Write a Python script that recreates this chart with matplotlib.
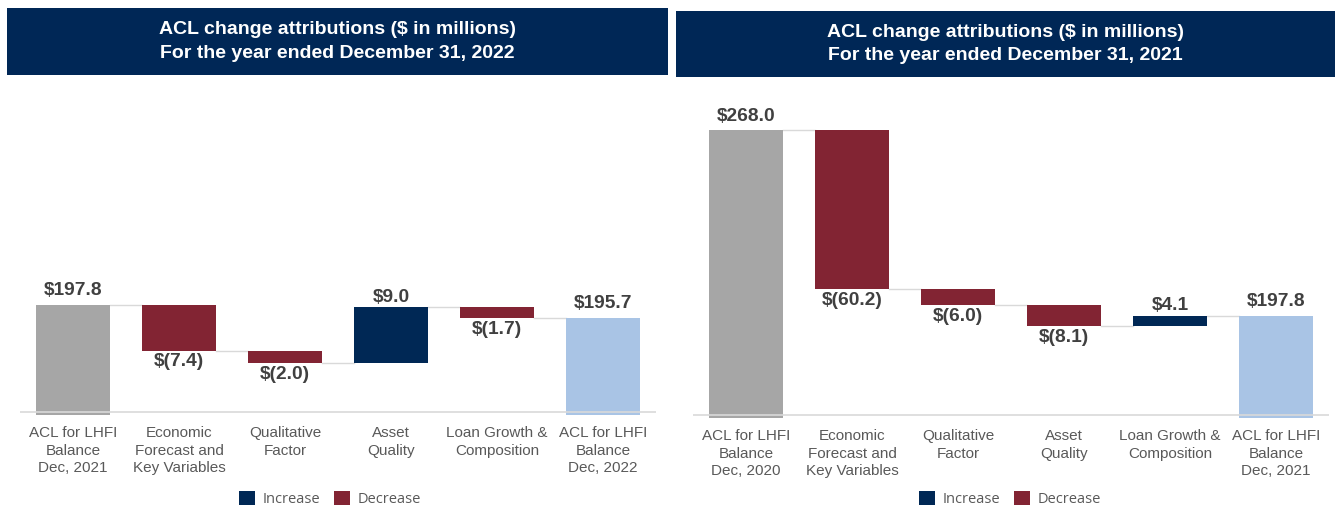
import matplotlib
matplotlib.use("Agg")
import matplotlib.pyplot as plt
from matplotlib.patches import Patch, Rectangle

plt.rcParams["font.family"] = ["Liberation Sans", "DejaVu Sans"]

# ── data ────────────────────────────────────────────────────────────────
categories_2022 = ["ACL for LHFI\nBalance\nDec, 2021", "Economic\nForecast and\nKey Variables",
                   "Qualitative\nFactor", "Asset\nQuality", "Loan Growth &\nComposition",
                   "ACL for LHFI\nBalance\nDec, 2022"]
start_2022 = 197.8
changes_2022 = [-7.4, -2.0, 9.0, -1.7]
end_2022 = 195.7

categories_2021 = ["ACL for LHFI\nBalance\nDec, 2020", "Economic\nForecast and\nKey Variables",
                   "Qualitative\nFactor", "Asset\nQuality", "Loan Growth &\nComposition",
                   "ACL for LHFI\nBalance\nDec, 2021"]
start_2021 = 268.0
changes_2021 = [-60.2, -6.0, -8.1, 4.1]
end_2021 = 197.8

titles = ["ACL change attributions ($ in millions)\nFor the year ended December 31, 2022",
          "ACL change attributions ($ in millions)\nFor the year ended December 31, 2021"]

# ── style ───────────────────────────────────────────────────────────────
C_START = "#a6a6a6"
C_END = "#a9c4e5"
C_UP = "#002855"
C_DOWN = "#822433"
C_HEAD = "#002756"
C_LINE = "#d9d9d9"
C_TXT = "#404040"
C_CAT = "#595959"

W, H = 1335, 508
fig = plt.figure(figsize=(W / 100, H / 100), dpi=100)


def px_rect(x0, y0, x1, y1):
    # pixel box (top-left origin) -> figure fraction
    return [x0 / W, 1 - y1 / H, (x1 - x0) / W, (y1 - y0) / H]


def fmt(v):
    return f"$({abs(v):.1f})" if v < 0 else f"${v:.1f}"


def waterfall(ax, cats, start, changes, end, ymin, ymax):
    n = len(cats)
    bw = 0.69
    lab = dict(ha="center", fontsize=13.8, fontweight="bold", color=C_TXT,
               textcoords="offset points")
    # totals
    ax.bar(0, start - ymin, bottom=ymin, width=bw, color=C_START, zorder=3)
    ax.bar(n - 1, end - ymin, bottom=ymin, width=bw, color=C_END, zorder=3)
    ax.annotate(fmt(start), (0, start), xytext=(0, 4), va="bottom", **lab)
    ax.annotate(fmt(end), (n - 1, end), xytext=(0, 4), va="bottom", **lab)

    level = start
    levels = [start]
    for i, d in enumerate(changes, start=1):
        lo, hi = min(level, level + d), max(level, level + d)
        ax.bar(i, hi - lo, bottom=lo, width=bw, color=C_UP if d > 0 else C_DOWN, zorder=3)
        if d > 0:
            ax.annotate(fmt(d), (i, hi), xytext=(0, 1), va="bottom", **lab)
        else:
            ax.annotate(fmt(d), (i, lo), xytext=(0, -2), va="top", **lab)
        level += d
        levels.append(level)

    # connectors
    for i, lv in enumerate(levels):
        ax.plot([i + bw / 2, i + 1 - bw / 2], [lv, lv], color=C_LINE, lw=1, zorder=2)

    ax.set_xlim(-0.5, n - 0.5)
    ax.set_ylim(ymin, ymax)
    span = ymax - ymin
    ax.axhline(ymin + span * 0.01, color=C_LINE, lw=1.2, zorder=4)
    ax.set_xticks(range(n))
    ax.set_xticklabels(cats, fontsize=11, color=C_CAT, linespacing=1.31)
    ax.tick_params(axis="x", length=0, pad=8)
    ax.set_yticks([])
    for s in ax.spines.values():
        s.set_visible(False)
    ax.patch.set_alpha(0)


# left panel
ax1 = fig.add_axes(px_rect(20, 100, 656, 415))
waterfall(ax1, categories_2022, start_2022, changes_2022, end_2022, 180.0, 230.9)

# right panel
ax2 = fig.add_axes(px_rect(693, 100, 1329, 418))
waterfall(ax2, categories_2021, start_2021, changes_2021, end_2021, 159.0, 279.4)

# headers
for (x0, y0, x1, y1), t in zip([(7, 8, 668, 75), (676, 11, 1335, 77)], titles):
    r = px_rect(x0, y0, x1, y1)
    fig.patches.append(Rectangle((r[0], r[1]), r[2], r[3], transform=fig.transFigure,
                                 facecolor=C_HEAD, edgecolor="none", zorder=0))
    fig.text(r[0] + r[2] / 2, r[1] + r[3] / 2, t, ha="center", va="center",
             color="white", fontweight="bold", fontsize=14, linespacing=1.5)

# legends
handles = [Patch(facecolor=C_UP, label="Increase"), Patch(facecolor=C_DOWN, label="Decrease")]
for cx in (330, 1010):
    fig.legend(handles=handles, loc="center", bbox_to_anchor=(cx / W, 1 - 499 / H),
               ncol=2, frameon=False, labelcolor=C_CAT,
               prop={"family": ["Open Sans", "DejaVu Sans"], "size": 10.5},
               handlelength=1.1, handleheight=1.1, handletextpad=0.5, columnspacing=1.0)

fig.savefig("out.png", dpi=100)
